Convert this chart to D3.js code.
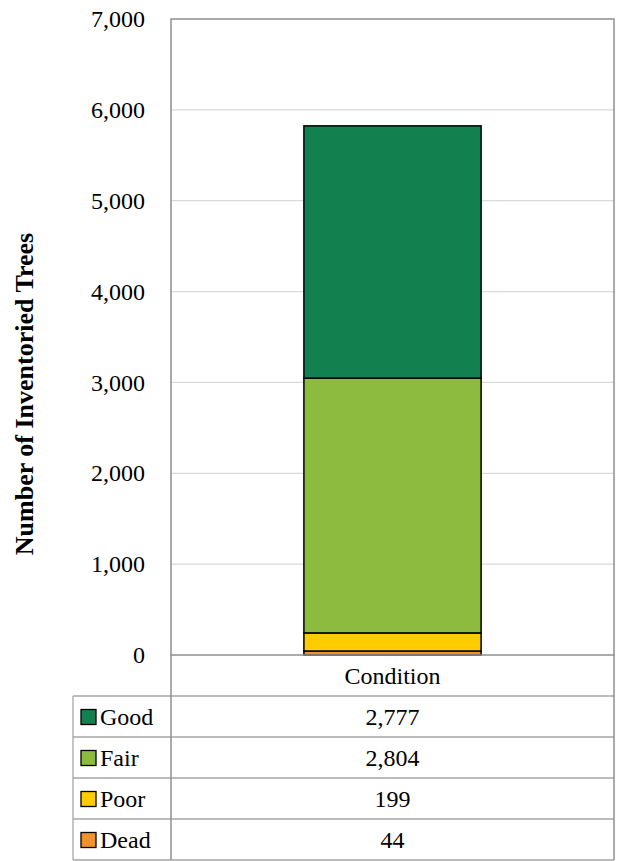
<!DOCTYPE html>
<html>
<head>
<meta charset="utf-8">
<script src="https://cdn.jsdelivr.net/npm/d3@7"></script>
<style>
  body { margin: 0; background: #fff; }
  svg { display: block; }
  text { font-family: "Liberation Serif", "DejaVu Serif", serif; fill: #000; }
</style>
</head>
<body>
<svg id="chart" width="619" height="861"></svg>
<script>
// chart data
const category = "Condition";
const conditions = ["Dead", "Poor", "Fair", "Good"];
const counts = [44, 199, 2804, 2777];
const colors = ["#F0932F", "#FFCC00", "#8CBB40", "#13804F"];
const yTicks = [0, 1000, 2000, 3000, 4000, 5000, 6000, 7000];
const yTitle = "Number of Inventoried Trees";

const svg = d3.select("#chart");
const serif = "Liberation Serif, serif";
const fs = 24;

// plot area (matches the excel layout)
const plot = { left: 171, right: 614, top: 19, bottom: 655 };
const tableLeft = 73;
const rowH = 41;
const tableBottom = plot.bottom + rowH * 5;

const y = d3.scaleLinear().domain([0, 7000]).range([plot.bottom, plot.top]);
const x = d3.scaleBand().domain([category]).range([plot.left, plot.right]).paddingInner(0.6).paddingOuter(0.3);

// gridlines
svg.append("g")
  .selectAll("line")
  .data(yTicks.slice(1, -1))
  .join("line")
  .attr("x1", plot.left)
  .attr("x2", plot.right)
  .attr("y1", (d) => y(d))
  .attr("y2", (d) => y(d))
  .attr("stroke", "#d9d9d9")
  .attr("stroke-width", 1.3);

// y axis labels
const yAxis = d3.axisLeft(y)
  .tickValues(yTicks)
  .tickFormat(d3.format(","))
  .tickSize(0)
  .tickPadding(26);

svg.append("g")
  .attr("transform", `translate(${plot.left},0)`)
  .call(yAxis)
  .attr("font-family", serif)
  .attr("font-size", fs)
  .call((g) => g.select(".domain").remove())
  .selectAll("text")
  .attr("fill", "#000");

// stacked bar
const series = [];
let base = 0;
conditions.forEach((c, i) => {
  series.push({ key: c, y0: base, y1: base + counts[i], color: colors[i] });
  base += counts[i];
});

svg.append("g")
  .selectAll("rect")
  .data(series)
  .join("rect")
  .attr("x", x(category))
  .attr("width", x.bandwidth())
  .attr("y", (d) => y(d.y1))
  .attr("height", (d) => y(d.y0) - y(d.y1))
  .attr("fill", (d) => d.color)
  .attr("stroke", "#000")
  .attr("stroke-width", 1.5);

// data table below the plot
const tbl = svg.append("g")
  .attr("font-family", serif)
  .attr("font-size", fs);
const grey = "#a6a6a6";

// horizontal row lines
const rowLines = d3.range(1, 6).map((i) => plot.bottom + rowH * i);
tbl.selectAll("line.row")
  .data(rowLines)
  .join("line")
  .attr("class", "row")
  .attr("x1", tableLeft)
  .attr("x2", plot.right)
  .attr("y1", (d) => d)
  .attr("y2", (d) => d)
  .attr("stroke", grey)
  .attr("stroke-width", 1.3);

tbl.append("line")
  .attr("x1", tableLeft).attr("x2", tableLeft)
  .attr("y1", plot.bottom + rowH).attr("y2", tableBottom)
  .attr("stroke", grey).attr("stroke-width", 1.3);

// plot frame + table verticals
svg.append("rect")
  .attr("x", plot.left)
  .attr("y", plot.top)
  .attr("width", plot.right - plot.left)
  .attr("height", plot.bottom - plot.top)
  .attr("fill", "none")
  .attr("stroke", "#8f8f8f")
  .attr("stroke-width", 1.5);

[plot.left, plot.right].forEach((xx) => {
  tbl.append("line")
    .attr("x1", xx).attr("x2", xx)
    .attr("y1", plot.bottom).attr("y2", tableBottom)
    .attr("stroke", "#8f8f8f").attr("stroke-width", 1.5);
});

// category label
const midX = x(category) + x.bandwidth() / 2;
tbl.append("text")
  .attr("x", midX)
  .attr("y", plot.bottom + rowH / 2)
  .attr("dy", "0.35em")
  .attr("text-anchor", "middle")
  .text(category);

// legend rows (Good first)
const legendRows = conditions.map((c, i) => ({ key: c, value: counts[i], color: colors[i] })).reverse();

const rows = tbl.selectAll("g.lrow")
  .data(legendRows)
  .join("g")
  .attr("class", "lrow")
  .attr("transform", (d, i) => `translate(0,${plot.bottom + rowH * (i + 1)})`);

rows.append("rect")
  .attr("x", 81)
  .attr("y", rowH / 2 - 7)
  .attr("width", 15)
  .attr("height", 15)
  .attr("fill", (d) => d.color)
  .attr("stroke", "#000")
  .attr("stroke-width", 1.3);

rows.append("text")
  .attr("x", 100)
  .attr("y", rowH / 2)
  .attr("dy", "0.35em")
  .text((d) => d.key);

rows.append("text")
  .attr("x", midX)
  .attr("y", rowH / 2)
  .attr("dy", "0.35em")
  .attr("text-anchor", "middle")
  .text((d) => d3.format(",")(d.value));

// y axis title
svg.append("text")
  .attr("transform", "translate(24,394) rotate(-90)")
  .attr("dy", "0.35em")
  .attr("text-anchor", "middle")
  .attr("font-family", serif)
  .attr("font-size", 26)
  .attr("font-weight", "bold")
  .text(yTitle);
</script>
</body>
</html>
